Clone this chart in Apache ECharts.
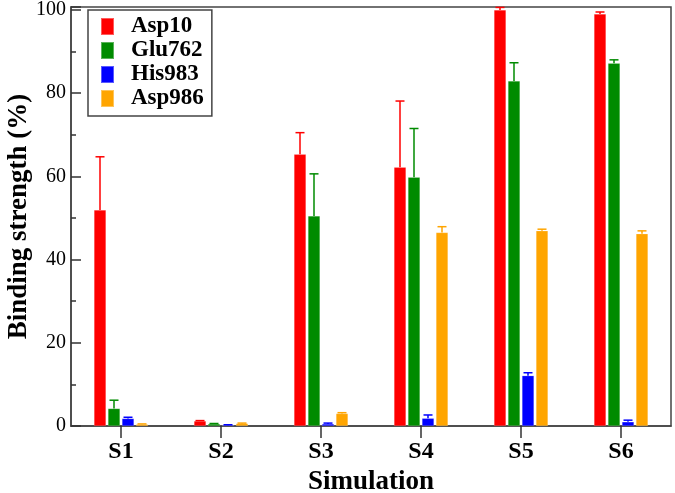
<!DOCTYPE html>
<html>
<head>
<meta charset="utf-8">
<script src="https://cdn.jsdelivr.net/npm/echarts@6/dist/echarts.min.js"></script>
<style>html,body{margin:0;padding:0;background:#fff}#c{width:675px;height:493px}</style>
</head>
<body>
<div id="c"></div>
<script>
var categories = ['S1', 'S2', 'S3', 'S4', 'S5', 'S6'];
var seriesNames = ['Asp10', 'Glu762', 'His983', 'Asp986'];
var asp10 = [51.9, 1.2, 65.3, 62.2, 100.0, 99.0];
var asp10Err = [12.8, 0.1, 5.2, 15.9, 0.6, 0.5];
var glu762 = [4.2, 0.5, 50.5, 59.8, 82.9, 87.2];
var glu762Err = [2.0, 0.1, 10.1, 11.7, 4.4, 0.8];
var his983 = [1.8, 0.2, 0.5, 1.85, 12.1, 1.0];
var his983Err = [0.3, 0.1, 0.2, 0.8, 0.7, 0.4];
var asp986 = [0.4, 0.6, 3.0, 46.5, 46.9, 46.2];
var asp986Err = [0.1, 0.1, 0.2, 1.4, 0.4, 0.7];
var yTicks = [0, 20, 40, 60, 80, 100];

var values = [asp10, glu762, his983, asp986];
var errors = [asp10Err, glu762Err, his983Err, asp986Err];
var colors = ['#ff0000', '#008b00', '#0000ff', '#ffa500'];
var FONT = '"Liberation Serif", "DejaVu Serif", serif';
var BAR_W = 12, GAP = 2;

var chart = echarts.init(document.getElementById('c'), null, {renderer: 'canvas'});
var series = [];
values.forEach(function (vals, i) {
  series.push({
    name: seriesNames[i], type: 'bar', data: vals,
    barWidth: BAR_W, barGap: (GAP / BAR_W * 100) + '%',
    itemStyle: {color: colors[i], borderColor: 'rgba(255,255,255,0.35)', borderWidth: 0.5},
    z: 2
  });
});
values.forEach(function (vals, i) {
  var total = values.length * BAR_W + (values.length - 1) * GAP;
  var offset = -total / 2 + BAR_W / 2 + i * (BAR_W + GAP);
  series.push({
    type: 'custom', name: seriesNames[i] + ' err',
    data: vals.map(function (v, k) { return [k, v, v + errors[i][k]]; }),
    encode: {x: 0, y: [1, 2]},
    z: 3, silent: true,
    renderItem: function (params, api) {
      var k = api.value(0);
      var lo = api.coord([k, api.value(1)]);
      var hi = api.coord([k, api.value(2)]);
      var x = lo[0] + offset;
      var cap = 4.5;
      var st = {stroke: colors[i], lineWidth: 1.5};
      return {type: 'group', children: [
        {type: 'line', shape: {x1: x, y1: lo[1], x2: x, y2: hi[1]}, style: st},
        {type: 'line', shape: {x1: x - cap, y1: hi[1], x2: x + cap, y2: hi[1]}, style: st}
      ]};
    }
  });
});

chart.setOption({
  animation: false,
  backgroundColor: '#fff',
  textStyle: {fontFamily: FONT},
  grid: {left: 71, top: 7, right: 4, bottom: 67, containLabel: false, outerBoundsMode: 'none',
    show: true, borderColor: '#444', borderWidth: 1.5, backgroundColor: 'transparent'},
  legend: {
    left: 88, top: 10, orient: 'vertical',
    data: seriesNames,
    icon: 'rect', itemWidth: 13, itemHeight: 17, itemGap: 1,
    padding: [5, 8, 6, 12],
    borderColor: '#444', borderWidth: 1.5, backgroundColor: '#fff',
    textStyle: {fontFamily: FONT, fontWeight: 'bold', fontSize: 23, color: '#000', padding: [0, 0, 0, 12]}
  },
  xAxis: {
    type: 'category', data: categories,
    axisLine: {lineStyle: {color: '#444', width: 1.5}},
    axisTick: {show: true, alignWithLabel: true, length: 12, lineStyle: {color: '#333', width: 1.5}},
    axisLabel: {fontFamily: FONT, fontWeight: 'bold', fontSize: 24, color: '#000', margin: 14},
    name: 'Simulation', nameLocation: 'middle', nameGap: 38,
    nameTextStyle: {fontFamily: FONT, fontWeight: 'bold', fontSize: 27, color: '#000'}
  },
  yAxis: {
    type: 'value', min: 0, max: 100.7, interval: 20,
    axisLine: {show: true, lineStyle: {color: '#444', width: 1.5}},
    axisTick: {show: true, inside: true, length: 10, lineStyle: {color: '#333', width: 1.5}},
    minorTick: {show: true, splitNumber: 2, length: 5, lineStyle: {color: '#333', width: 1.5}},
    splitLine: {show: false},
    axisLabel: {fontFamily: FONT, fontSize: 20, color: '#000', margin: 5,
      formatter: function (v) { return yTicks.indexOf(v) >= 0 ? String(v) : ''; }},
    name: 'Binding strength (%)', nameLocation: 'middle', nameGap: 38, nameMoveOverlap: false,
    nameTextStyle: {fontFamily: FONT, fontWeight: 'bold', fontSize: 27, color: '#000'}
  },
  series: series
});
</script>
</body>
</html>
